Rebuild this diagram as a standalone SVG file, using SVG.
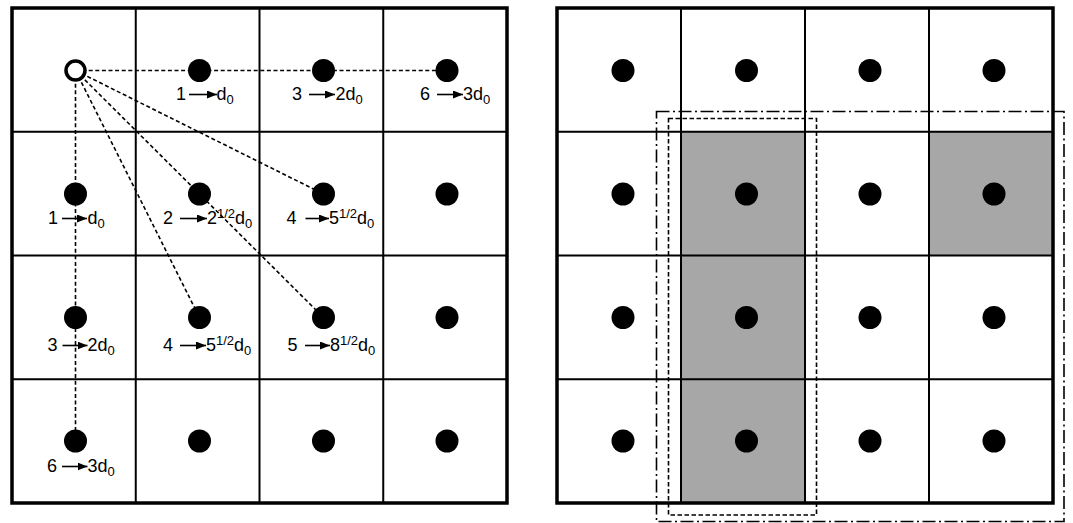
<svg xmlns="http://www.w3.org/2000/svg" width="1073" height="523" viewBox="0 0 1073 523">
  <style>
    .frame{fill:none;stroke:#000;stroke-width:3.5}
    .grid{stroke:#000;stroke-width:2;fill:none}
    .dot{fill:#000}
    .origin{fill:#fff;stroke:#000;stroke-width:3.5}
    .link{stroke:#000;stroke-width:1.6;stroke-dasharray:4 2.6;fill:none}
    .arr{stroke:#000;stroke-width:1.6;marker-end:url(#ah)}
    .lbl{font-family:"Liberation Sans",Arial,sans-serif;font-size:18px;fill:#000}
    .sub{font-size:13px}
    .sup{font-size:13px}
    .shade{fill:#a7a7a7}
    .win1{fill:none;stroke:#000;stroke-width:1.6;stroke-dasharray:4.5 2.5}
    .win2{fill:none;stroke:#000;stroke-width:1.6;stroke-dasharray:13 3.5 2 3.5}
  </style>
  <defs>
    <marker id="ah" viewBox="0 0 10 8" refX="10" refY="4" markerWidth="10" markerHeight="8" markerUnits="userSpaceOnUse" orient="auto">
      <path d="M0,0 L10,4 L0,8 z" fill="#000"/>
    </marker>
  </defs>
  <rect width="1073" height="523" fill="#fff"/>

  <!-- left panel: distance from the reference point -->
  <g id="left-grid">
    <path class="grid" d="M135.75,8V503M259.5,8V503M383.25,8V503M12,131.75H507M12,255.5H507M12,379.25H507"/>
    <rect class="frame" x="12" y="8" width="495" height="495"/>
  </g>

  <g id="connectors">
    <line class="link" x1="75.5" y1="70.5" x2="447" y2="70.5"/>
    <line class="link" x1="75.5" y1="70.5" x2="75.5" y2="441"/>
    <line class="link" x1="75.5" y1="70.5" x2="323.5" y2="317.5"/>
    <line class="link" x1="75.5" y1="70.5" x2="323.5" y2="194"/>
    <line class="link" x1="75.5" y1="70.5" x2="199.5" y2="317.5"/>
  </g>

  <g id="left-dots">
    <g id="n00"><circle class="origin" cx="75.5" cy="70.5" r="9.5"/></g>
    <g id="n01"><circle class="dot" cx="199.5" cy="70.5" r="11.5"/></g>
    <g id="n02"><circle class="dot" cx="323.5" cy="70.5" r="11.5"/></g>
    <g id="n03"><circle class="dot" cx="447" cy="70.5" r="11.5"/></g>
    <g id="n10"><circle class="dot" cx="75.5" cy="194" r="11.5"/></g>
    <g id="n11"><circle class="dot" cx="199.5" cy="194" r="11.5"/></g>
    <g id="n12"><circle class="dot" cx="323.5" cy="194" r="11.5"/></g>
    <g id="n13"><circle class="dot" cx="447" cy="194" r="11.5"/></g>
    <g id="n20"><circle class="dot" cx="75.5" cy="317.5" r="11.5"/></g>
    <g id="n21"><circle class="dot" cx="199.5" cy="317.5" r="11.5"/></g>
    <g id="n22"><circle class="dot" cx="323.5" cy="317.5" r="11.5"/></g>
    <g id="n23"><circle class="dot" cx="447" cy="317.5" r="11.5"/></g>
    <g id="n30"><circle class="dot" cx="75.5" cy="441" r="11.5"/></g>
    <g id="n31"><circle class="dot" cx="199.5" cy="441" r="11.5"/></g>
    <g id="n32"><circle class="dot" cx="323.5" cy="441" r="11.5"/></g>
    <g id="n33"><circle class="dot" cx="447" cy="441" r="11.5"/></g>
  </g>

  <g id="labels" class="lbl">
    <!-- row 0 -->
    <text x="176" y="99.5">1</text>
    <line class="arr" x1="189" y1="94.5" x2="217" y2="94.5"/>
    <text x="216.5" y="99.5">d<tspan class="sub" dy="4.5">0</tspan></text>

    <text x="292" y="99.5">3</text>
    <line class="arr" x1="309" y1="94.5" x2="335" y2="94.5"/>
    <text x="335.5" y="99.5">2d<tspan class="sub" dy="4.5">0</tspan></text>

    <text x="420" y="99.5">6</text>
    <line class="arr" x1="437" y1="94.5" x2="463" y2="94.5"/>
    <text x="463" y="99.5">3d<tspan class="sub" dy="4.5">0</tspan></text>

    <!-- row 1 -->
    <text x="48" y="223.5">1</text>
    <line class="arr" x1="62" y1="218.5" x2="87" y2="218.5"/>
    <text x="87.5" y="223.5">d<tspan class="sub" dy="4.5">0</tspan></text>

    <text x="163" y="223.5">2</text>
    <line class="arr" x1="180" y1="218.5" x2="207" y2="218.5"/>
    <text x="207" y="223.5">2<tspan class="sup" dy="-5.7">1/2</tspan><tspan dy="5.7">d</tspan><tspan class="sub" dy="4.5">0</tspan></text>

    <text x="286.5" y="223.5">4</text>
    <line class="arr" x1="305.5" y1="218.5" x2="329" y2="218.5"/>
    <text x="329" y="223.5">5<tspan class="sup" dy="-5.7">1/2</tspan><tspan dy="5.7">d</tspan><tspan class="sub" dy="4.5">0</tspan></text>

    <!-- row 2 -->
    <text x="47.5" y="350.5">3</text>
    <line class="arr" x1="62.5" y1="345.5" x2="87.5" y2="345.5"/>
    <text x="87.5" y="350.5">2d<tspan class="sub" dy="4.5">0</tspan></text>

    <text x="163" y="350.5">4</text>
    <line class="arr" x1="180" y1="345.5" x2="206" y2="345.5"/>
    <text x="206" y="350.5">5<tspan class="sup" dy="-5.7">1/2</tspan><tspan dy="5.7">d</tspan><tspan class="sub" dy="4.5">0</tspan></text>

    <text x="287.5" y="350.5">5</text>
    <line class="arr" x1="305" y1="345.5" x2="330" y2="345.5"/>
    <text x="330" y="350.5">8<tspan class="sup" dy="-5.7">1/2</tspan><tspan dy="5.7">d</tspan><tspan class="sub" dy="4.5">0</tspan></text>

    <!-- row 3 -->
    <text x="47" y="471.5">6</text>
    <line class="arr" x1="62" y1="466.5" x2="87.5" y2="466.5"/>
    <text x="87.5" y="471.5">3d<tspan class="sub" dy="4.5">0</tspan></text>
  </g>

  <!-- right panel: selected cells and search windows -->
  <g id="right-grid">
    <rect class="shade" x="681" y="131.75" width="124" height="371.25"/>
    <rect class="shade" x="929" y="131.75" width="124" height="123.75"/>
    <path class="grid" d="M681,8V503M805,8V503M929,8V503M557,131.75H1053M557,255.5H1053M557,379.25H1053"/>
    <rect class="frame" x="557" y="8" width="496" height="495"/>
  </g>

  <g id="right-dots">
    <g id="m00"><circle class="dot" cx="623" cy="70.5" r="11.5"/></g>
    <g id="m01"><circle class="dot" cx="746.5" cy="70.5" r="11.5"/></g>
    <g id="m02"><circle class="dot" cx="870" cy="70.5" r="11.5"/></g>
    <g id="m03"><circle class="dot" cx="994" cy="70.5" r="11.5"/></g>
    <g id="m10"><circle class="dot" cx="623" cy="194" r="11.5"/></g>
    <g id="m11"><circle class="dot" cx="746.5" cy="194" r="11.5"/></g>
    <g id="m12"><circle class="dot" cx="870" cy="194" r="11.5"/></g>
    <g id="m13"><circle class="dot" cx="994" cy="194" r="11.5"/></g>
    <g id="m20"><circle class="dot" cx="623" cy="317.5" r="11.5"/></g>
    <g id="m21"><circle class="dot" cx="746.5" cy="317.5" r="11.5"/></g>
    <g id="m22"><circle class="dot" cx="870" cy="317.5" r="11.5"/></g>
    <g id="m23"><circle class="dot" cx="994" cy="317.5" r="11.5"/></g>
    <g id="m30"><circle class="dot" cx="623" cy="441" r="11.5"/></g>
    <g id="m31"><circle class="dot" cx="746.5" cy="441" r="11.5"/></g>
    <g id="m32"><circle class="dot" cx="870" cy="441" r="11.5"/></g>
    <g id="m33"><circle class="dot" cx="994" cy="441" r="11.5"/></g>
  </g>

  <g id="windows">
    <rect class="win1" x="668.5" y="118.5" width="148" height="396.5"/>
    <rect class="win2" x="656.5" y="111.5" width="407.5" height="410"/>
  </g>
</svg>
